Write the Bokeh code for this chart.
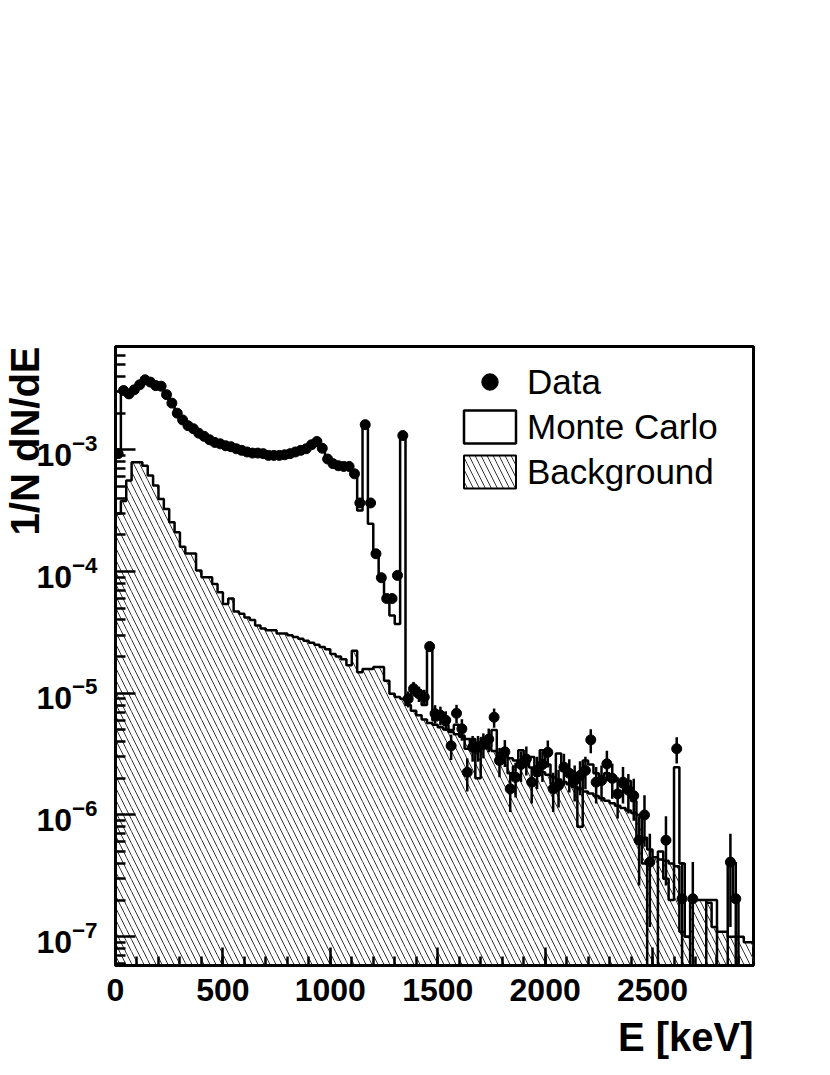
import numpy as np
from bokeh.plotting import figure
from bokeh.models import (Range1d, FixedTicker, SingleIntervalTicker, Title,
                          Legend, LegendItem, LogTickFormatter)
from bokeh.embed import file_html
from bokeh.resources import INLINE

# ---------------- data (25 keV bins, 0 .. 2975 keV) ----------------
bin_width = 25.0
one_count = 2.05e-7   # normalised value of a single count (for Poisson errors)

data = [9.3e-4, 3.07e-3, 2.88e-3, 3.11e-3, 3.42e-3, 3.76e-3, 3.6e-3, 3.37e-3, 3.33e-3, 2.84e-3,
        2.42e-3, 2.0e-3, 1.76e-3, 1.58e-3, 1.49e-3, 1.37e-3, 1.29e-3, 1.21e-3, 1.15e-3, 1.12e-3,
        1.08e-3, 1.06e-3, 1.02e-3, 9.9e-4, 9.6e-4, 9.4e-4, 9.4e-4, 9.3e-4, 9.0e-4, 9.0e-4,
        9.0e-4, 9.1e-4, 9.3e-4, 9.6e-4, 9.9e-4, 1.02e-3, 1.1e-3, 1.17e-3, 1.03e-3, 8.4e-4,
        7.7e-4, 7.4e-4, 7.3e-4, 7.3e-4, 6.35e-4, 3.66e-4, 1.61e-3, 3.66e-4, 1.4e-4, 8.9e-5,
        6.0e-5, 6.0e-5, 9.3e-5, 1.31e-3, 9.0e-6, 1.09e-5, 9.9e-6, 9.3e-6, 2.42e-5, 6.8e-6,
        6.6e-6, 6.0e-6, 3.7e-6, 6.85e-6, 5.1e-6, 2.24e-6, 3.6e-6, 3.6e-6, 3.8e-6, 4.2e-6,
        6.35e-6, 2.8e-6, 3.3e-6, 1.64e-6, 2.04e-6, 2.6e-6, 2.88e-6, 1.86e-6, 2.32e-6, 2.6e-6,
        3.27e-6, 1.64e-6, 1.75e-6, 2.47e-6, 2.2e-6, 1.92e-6, 2.11e-6, 2.32e-6, 4.14e-6, 1.86e-6,
        1.92e-6, 2.63e-6, 2.0e-6, 1.49e-6, 1.86e-6, 1.6e-6, 1.44e-6, 6.2e-7, 1.0e-6, 4.1e-7,
        0, 0, 6.2e-7, 0, 3.5e-6, 2.05e-7, 0, 2.05e-7, 0, 0,
        0, 0, 0, 0, 4.1e-7, 2.05e-7, 0, 0, 0]

monte_carlo = [9.0e-4, 3.0e-3, 2.95e-3, 3.1e-3, 3.45e-3, 3.7e-3, 3.6e-3, 3.4e-3, 3.3e-3, 2.85e-3,
               2.4e-3, 2.0e-3, 1.75e-3, 1.6e-3, 1.48e-3, 1.38e-3, 1.28e-3, 1.2e-3, 1.15e-3, 1.11e-3,
               1.08e-3, 1.05e-3, 1.02e-3, 9.9e-4, 9.6e-4, 9.4e-4, 9.3e-4, 9.2e-4, 9.0e-4, 8.9e-4,
               9.0e-4, 9.1e-4, 9.3e-4, 9.5e-4, 9.8e-4, 1.03e-3, 1.1e-3, 1.18e-3, 1.03e-3, 8.3e-4,
               7.6e-4, 7.4e-4, 7.3e-4, 7.2e-4, 6.3e-4, 3.17e-4, 1.69e-3, 2.47e-4, 1.4e-4, 8.9e-5,
               6.0e-5, 4.35e-5, 3.7e-5, 1.31e-3, 9.0e-6, 1.0e-5, 9.5e-6, 8.0e-6, 2.4e-5, 6.0e-6,
               7.0e-6, 5.5e-6, 5.0e-6, 5.5e-6, 4.5e-6, 3.5e-6, 4.2e-6, 2.0e-6, 4.3e-6, 3.6e-6,
               5.0e-6, 3.0e-6, 3.5e-6, 2.2e-6, 2.5e-6, 3.4e-6, 2.6e-6, 3.0e-6, 2.1e-6, 3.4e-6,
               2.6e-6, 1.8e-6, 3.2e-6, 2.3e-6, 2.1e-6, 1.7e-6, 8.0e-7, 2.8e-6, 2.6e-6, 2.2e-6,
               1.9e-6, 2.2e-6, 2.0e-6, 1.9e-6, 1.7e-6, 1.9e-6, 1.3e-6, 6.0e-7, 4.0e-7, 1e-12,
               1e-12, 5.0e-7, 3.0e-7, 2.0e-7, 2.47e-6, 4.0e-7, 1.0e-7, 1e-12, 1e-12, 1e-12,
               2.0e-7, 2.0e-7, 1e-12, 1e-12, 4.0e-7, 2.0e-7, 1e-12, 1e-12, 1e-12]

background = [3.0e-4, 3.8e-4, 5.6e-4, 7.9e-4, 7.9e-4, 7.4e-4, 6.15e-4, 5.1e-4, 3.95e-4, 3.27e-4,
              2.54e-4, 2.1e-4, 1.6e-4, 1.41e-4, 1.41e-4, 1.02e-4, 8.97e-5, 8.97e-5, 7.9e-5, 6.76e-5,
              5.4e-5, 6.0e-5, 4.7e-5, 4.5e-5, 4.2e-5, 4.0e-5, 3.6e-5, 3.4e-5, 3.3e-5, 3.3e-5,
              3.1e-5, 3.1e-5, 3.0e-5, 2.9e-5, 2.8e-5, 2.7e-5, 2.6e-5, 2.5e-5, 2.4e-5, 2.3e-5,
              2.1e-5, 2.0e-5, 1.9e-5, 1.7e-5, 2.24e-5, 1.49e-5, 1.58e-5, 1.58e-5, 1.64e-5, 1.64e-5,
              1.27e-5, 9.9e-6, 9.3e-6, 9.0e-6, 8.0e-6, 7.2e-6, 6.6e-6, 6.1e-6, 5.7e-6, 5.5e-6,
              5.26e-6, 5.03e-6, 4.81e-6, 4.6e-6, 4.39e-6, 4.2e-6, 4.02e-6, 3.84e-6, 3.67e-6, 3.51e-6,
              3.36e-6, 3.21e-6, 3.07e-6, 2.93e-6, 2.8e-6, 2.68e-6, 2.56e-6, 2.45e-6, 2.34e-6, 2.24e-6,
              2.14e-6, 2.05e-6, 1.96e-6, 1.87e-6, 1.79e-6, 1.71e-6, 1.64e-6, 1.56e-6, 1.5e-6, 1.43e-6,
              1.37e-6, 1.31e-6, 1.25e-6, 1.19e-6, 1.14e-6, 1.09e-6, 1.04e-6, 1.0e-6, 6.5e-7, 5.2e-7,
              4.5e-7, 4.3e-7, 4.2e-7, 4.0e-7, 3.8e-7, 1.1e-7, 1.0e-7, 2.1e-7, 2.0e-7, 2.0e-7,
              1.9e-7, 1.2e-7, 1.1e-7, 1.1e-7, 1.0e-7, 1.0e-7, 1.0e-7, 9.0e-8, 9.0e-8]

x_ticks_interval = 500
y_major = [1e-7, 1e-6, 1e-5, 1e-4, 1e-3]

# ---------------- derived arrays ----------------
n_bins = len(data)
edges = np.arange(n_bins + 1) * bin_width
lefts, rights = edges[:-1], edges[1:]
centers = lefts + bin_width / 2

data_arr = np.array(data)
has = data_arr > 0
dx = centers[has]
dy = data_arr[has]
derr = np.sqrt(dy * one_count)
dlo = np.maximum(dy - derr, 1e-12)
dhi = dy + derr

mc_step = list(monte_carlo) + [monte_carlo[-1]]
bg_step = list(background) + [background[-1]]

y_lo, y_hi = 5.8e-8, 7.06e-3
x_lo, x_hi = 0, 2970

p = figure(frame_width=638, frame_height=619,
           min_border_left=115, min_border_right=50,
           min_border_top=346, min_border_bottom=105,
           x_range=Range1d(x_lo, x_hi), y_range=Range1d(y_lo, y_hi),
           y_axis_type="log", output_backend="svg", toolbar_location=None)
p.xgrid.visible = False
p.ygrid.visible = False
p.background_fill_color = "white"
p.border_fill_color = "white"
p.outline_line_color = "black"
p.outline_line_width = 3

FONT = "Liberation Sans"
HATCH = dict(hatch_pattern="\\", hatch_scale=12, hatch_weight=1, hatch_color="#333333")

# axes styling
p.xaxis.ticker = SingleIntervalTicker(interval=x_ticks_interval, num_minor_ticks=5)
p.yaxis.ticker = FixedTicker(ticks=y_major,
                             minor_ticks=[m * 10.0 ** e for e in range(-8, -2) for m in range(2, 10)])
p.yaxis.formatter = LogTickFormatter()
for ax in (p.xaxis, p.yaxis):
    ax.axis_line_width = 3
    ax.axis_line_color = "black"
    ax.major_tick_line_width = 2.5
    ax.minor_tick_line_width = 2.5
    ax.major_tick_out = 0
    ax.minor_tick_out = 0
    ax.major_label_text_font = FONT
    ax.major_label_text_font_style = "bold"
    ax.major_label_text_color = "black"
    ax.major_label_text_font_size = "32px"
p.xaxis.major_tick_in = 18
p.xaxis.minor_tick_in = 9
p.yaxis.major_tick_in = 20
p.yaxis.minor_tick_in = 10
p.xaxis.major_label_standoff = 13
p.yaxis.major_label_standoff = 18

# background (hatched)
p.quad(left=lefts, right=rights, bottom=1e-12, top=background,
       fill_color=None, line_color=None, **HATCH)
p.step(x=edges, y=bg_step, mode="after", line_color="black", line_width=2.5)

# Monte Carlo
p.step(x=edges, y=mc_step, mode="after", line_color="black", line_width=2.5)

# data with errors
p.segment(x0=dx, y0=dlo, x1=dx, y1=dhi, line_color="black", line_width=2.5)
data_r = p.scatter(x=dx, y=dy, size=10, marker="circle", fill_color="black", line_color="black")

# legend glyph proxies (degenerate, hidden in the frame corner)
mc_proxy = p.quad(left=[x_lo], right=[x_lo], bottom=[y_lo], top=[y_lo], fill_color="white",
                  line_color="black", line_width=2.5)
bg_proxy = p.quad(left=[x_lo], right=[x_lo], bottom=[y_lo], top=[y_lo], fill_color=None,
                  line_color="black", line_width=2, **HATCH)

legend = Legend(items=[LegendItem(label="Data", renderers=[data_r]),
                       LegendItem(label="Monte Carlo", renderers=[mc_proxy]),
                       LegendItem(label="Background", renderers=[bg_proxy])],
                location=(342, 473), orientation="vertical",
                glyph_width=65, glyph_height=41, label_standoff=5, spacing=4,
                padding=0, margin=0, border_line_color=None, background_fill_alpha=0,
                label_text_font=FONT, label_text_font_size="35px", label_text_color="black",
                label_height=41)
p.add_layout(legend)

# axis titles
p.add_layout(Title(text="E [keV]", align="right", text_font=FONT, text_font_style="bold",
                   text_font_size="40px", text_color="black", standoff=18), "below")
p.add_layout(Title(text="1/N dN/dE", align="right", text_font=FONT, text_font_style="bold",
                   text_font_size="40px", text_color="black", standoff=-26), "left")

open("out.html", "w").write(file_html(p, INLINE))
